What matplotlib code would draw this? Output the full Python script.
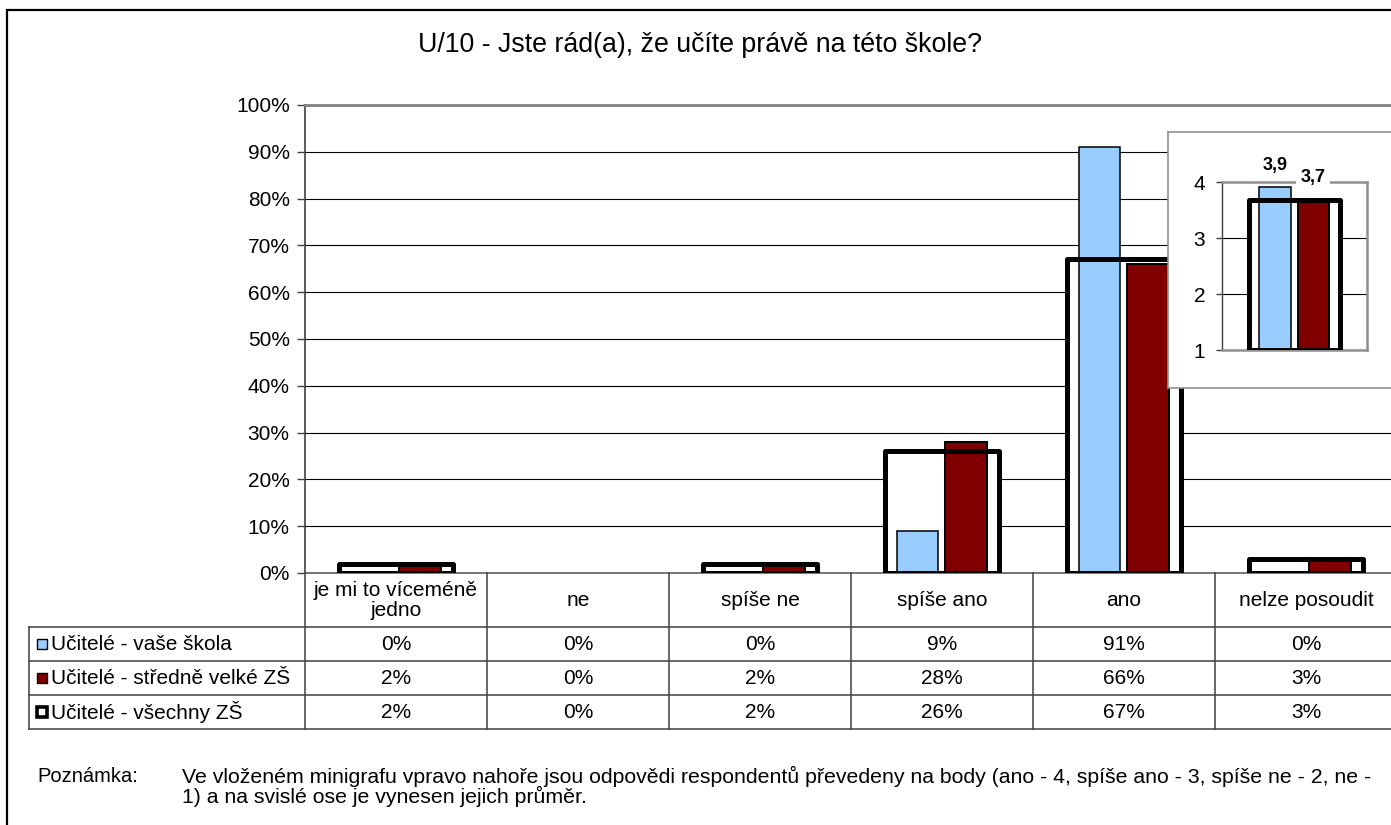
import numpy as np
import matplotlib
matplotlib.use("Agg")
import matplotlib.pyplot as plt
from matplotlib.lines import Line2D
from matplotlib.patches import Rectangle
from matplotlib.ticker import PercentFormatter

plt.rcParams['font.family'] = ['Liberation Sans', 'DejaVu Sans']

# ---------------- data ----------------
title = "U/10 - Jste rád(a), že učíte právě na této škole?"
categories = ["je mi to víceméně\njedno", "ne", "spíše ne", "spíše ano", "ano", "nelze posoudit"]
series_names = ["Učitelé - vaše škola", "Učitelé - středně velké ZŠ", "Učitelé - všechny ZŠ"]
school = [0, 0, 0, 9, 91, 0]
mid_zs = [2, 0, 2, 28, 66, 3]
all_zs = [2, 0, 2, 26, 67, 3]
mean_school = 3.91
mean_mid = 3.67
mean_all = 3.68
note_label = "Poznámka:"
note_text = ("Ve vloženém minigrafu vpravo nahoře jsou odpovědi respondentů převedeny na body (ano - 4, spíše ano - 3, spíše ne - 2, ne -\n"
             "1) a na svislé ose je vynesen jejich průměr.")

BLUE = "#99CCFF"
RED = "#800000"
FS = 15

W, H = 1391, 825
fig = plt.figure(figsize=(W / 100, H / 100), dpi=100)


def fx(px):
    return px / W


def fy(py):
    return 1 - py / H


# outer frame
fig.add_artist(Rectangle((fx(7), fy(900)), fx(1500) - fx(7), fy(10) - fy(900),
                         transform=fig.transFigure, fill=False, edgecolor="black", lw=1.6, zorder=0))

fig.text(fx(700), fy(45), title, ha="center", va="center", fontsize=19.3)

# ---------------- main chart ----------------
L, R, T, B = 305, 1397, 105, 573
ax = fig.add_axes([fx(L), fy(B), fx(R) - fx(L), fy(T) - fy(B)])
x = np.arange(len(categories))
sv = np.array(school) / 100
mv = np.array(mid_zs) / 100
av = np.array(all_zs) / 100

ax.bar(x, av, 0.627, color="white", edgecolor="none", zorder=2)
ax.bar(x - 0.135, sv, 0.23, color=BLUE, edgecolor="black",
       linewidth=[1.1 if v > 0 else 0 for v in sv], zorder=3)
ax.bar(x + 0.13, mv, 0.23, color=RED, edgecolor="black",
       linewidth=[1.4 if v > 0 else 0 for v in mv], zorder=3)
wb = ax.bar(x, av, 0.627, fill=False, edgecolor="black",
            linewidth=[3.6 if v > 0 else 0 for v in av], zorder=4)
for p in wb:
    p.set_joinstyle("round")

ax.set_xlim(-0.5, len(categories) - 0.5)
ax.set_ylim(0, 1)
ax.set_yticks(np.arange(0, 1.01, 0.1))
ax.yaxis.set_major_formatter(PercentFormatter(1.0, decimals=0))
ax.set_xticks([])
ax.tick_params(axis="y", labelsize=FS, length=6, width=1, color="#404040", pad=5)
ax.yaxis.grid(True, color="black", lw=0.8)
ax.set_axisbelow(True)
ax.spines["top"].set_color("#808080")
ax.spines["top"].set_linewidth(2)
ax.spines["right"].set_visible(False)
ax.spines["left"].set_color("#404040")
ax.spines["left"].set_linewidth(1.2)
ax.spines["bottom"].set_color("#606060")
ax.spines["bottom"].set_linewidth(1.2)

# ---------------- data table ----------------
col_w = (R - L) / len(categories)
row_tops = [627, 661, 695, 729]
lc = "#404040"
for yy in row_tops:
    fig.add_artist(Line2D([fx(29), fx(1400)], [fy(yy), fy(yy)], color=lc, lw=1.1))
fig.add_artist(Line2D([fx(29), fx(29)], [fy(627), fy(729)], color=lc, lw=1.1))
for i in range(len(categories)):
    xx = L + i * col_w
    fig.add_artist(Line2D([fx(xx), fx(xx)], [fy(B), fy(729)], color=lc, lw=1.1))

for i, c in enumerate(categories):
    cx = L + (i + 0.5) * col_w
    fig.text(fx(cx), fy(600.5), c, ha="center", va="center", fontsize=FS, linespacing=1.12)

rows = [school, mid_zs, all_zs]
colors = [BLUE, RED, "white"]
lws = [1.0, 1.0, 2.6]
for r, (name, vals, col, lw) in enumerate(zip(series_names, rows, colors, lws)):
    cy = (row_tops[r] + row_tops[r + 1]) / 2
    s = 10
    fig.add_artist(Rectangle((fx(37), fy(cy + s / 2)), fx(37 + s) - fx(37), fy(cy - s / 2) - fy(cy + s / 2),
                             transform=fig.transFigure, facecolor=col, edgecolor="black", lw=lw))
    fig.text(fx(51), fy(cy), name, ha="left", va="center", fontsize=FS)
    for i, v in enumerate(vals):
        cx = L + (i + 0.5) * col_w
        fig.text(fx(cx), fy(cy), f"{v}%", ha="center", va="center", fontsize=FS)

# note
fig.text(fx(37), fy(776), note_label, ha="left", va="center", fontsize=14.5)
fig.text(fx(182), fy(786.5), note_text, ha="left", va="center", fontsize=15.3, linespacing=0.98)

# ---------------- inset ----------------
box = fig.add_axes([fx(1168), fy(388), fx(1500) - fx(1168), fy(132) - fy(388)], zorder=5)
box.set_xticks([])
box.set_yticks([])
box.set_facecolor("white")
for s in box.spines.values():
    s.set_color("#909090")
    s.set_linewidth(1.2)

ax2 = fig.add_axes([fx(1222), fy(350), fx(1367) - fx(1222), fy(182) - fy(350)], zorder=6)
ax2.set_facecolor("none")
ax2.bar(0, mean_all - 1, 0.627, bottom=1, color="white", edgecolor="none", zorder=2)
ax2.bar(-0.135, mean_school - 1, 0.215, bottom=1, color=BLUE, edgecolor="black", lw=1.1, zorder=3)
ax2.bar(0.13, mean_mid - 1, 0.21, bottom=1, color=RED, edgecolor="black", lw=1.4, zorder=3)
wb2 = ax2.bar(0, mean_all - 1, 0.627, bottom=1, fill=False, edgecolor="black", lw=3.6, zorder=4)
for p in wb2:
    p.set_joinstyle("round")
ax2.annotate(f"{mean_school:.1f}".replace(".", ","), xy=(-0.135, mean_school), xytext=(0, 15.5),
             textcoords="offset points", ha="center", va="center", fontsize=13, fontweight="bold", zorder=7)
ax2.annotate(f"{mean_mid:.1f}".replace(".", ","), xy=(0.13, mean_mid), xytext=(0, 16.5),
             textcoords="offset points", ha="center", va="center", fontsize=13, fontweight="bold", zorder=7,
             bbox=dict(boxstyle="square,pad=0.25", facecolor="white", edgecolor="none"))
ax2.set_xlim(-0.5, 0.5)
ax2.set_ylim(1, 4)
ax2.set_yticks([1, 2, 3, 4])
ax2.set_xticks([])
ax2.tick_params(axis="y", labelsize=FS, length=4, width=1, color="#404040", pad=8)
ax2.yaxis.grid(True, color="black", lw=0.8)
ax2.set_axisbelow(True)
for k in ["top", "right", "bottom"]:
    ax2.spines[k].set_color("#909090")
    ax2.spines[k].set_linewidth(1.8)
ax2.spines["left"].set_color("#404040")
ax2.spines["left"].set_linewidth(1.0)

fig.savefig("out.png", dpi=100)
